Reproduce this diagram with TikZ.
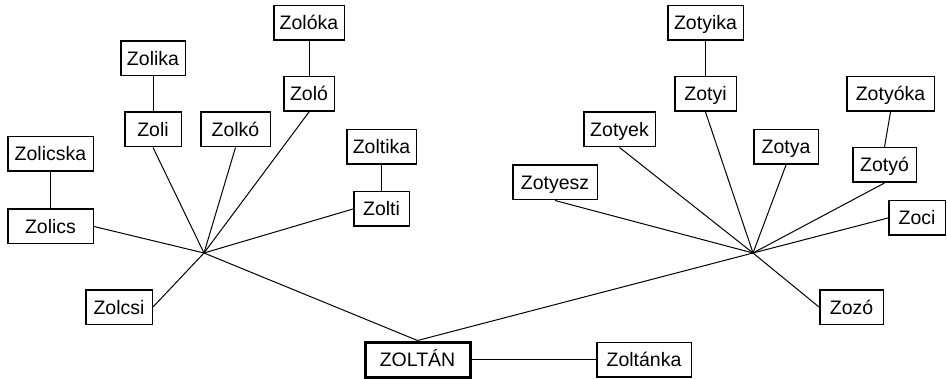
\documentclass[tikz,border=0pt]{standalone}
\usepackage{fontspec}
\setmainfont{Liberation Sans}
\begin{document}
\begin{tikzpicture}[x=1pt,y=-1pt,
  nbox/.style={draw,line width=1.5pt,inner xsep=2pt,inner ysep=0pt,minimum height=34.5pt,
    text height=14pt,text depth=0pt,font=\fontsize{19.5}{23}\selectfont},
  root/.style={nbox,line width=3pt,minimum height=35pt},
  w/.style={minimum width=#1pt-1.5pt},
  conn/.style={line width=1pt}]
\useasboundingbox (0,0) rectangle (947,379);
\coordinate (h1) at (204,253);
\coordinate (h2) at (753,253);
% left group
\node[nbox,w=72] (zoloka) at (309,23) {Zolóka};
\node[nbox,w=66] (zolika) at (153,58.5) {Zolika};
\node[nbox,w=52] (zolo) at (309,94) {Zoló};
\node[nbox,w=58] (zoli) at (153,129.5) {Zoli};
\node[nbox,w=71] (zolko) at (235.5,129.5) {Zolkó};
\node[nbox,w=87] (zolicska) at (50.5,154) {Zolicska};
\node[nbox,w=71] (zoltika) at (381.5,147) {Zoltika};
\node[nbox,w=57] (zolti) at (381.5,209) {Zolti};
\node[nbox,w=87] (zolics) at (50.5,226.5) {Zolics};
\node[nbox,w=68] (zolcsi) at (119,307) {Zolcsi};
% root
\node[root,minimum width=105pt] (zoltan) at (417.5,359.5) {ZOLTÁN};
\node[nbox,w=96] (zoltanka) at (644,359.5) {Zoltánka};
% right group
\node[nbox,w=77] (zotyika) at (705.5,23) {Zotyika};
\node[nbox,w=63] (zotyi) at (705.5,94) {Zotyi};
\node[nbox,w=73] (zotyek) at (619.5,129.5) {Zotyek};
\node[nbox,w=66] (zotya) at (786,147) {Zotya};
\node[nbox,w=89] (zotyoka) at (890.5,94) {Zotyóka};
\node[nbox,w=65] (zotyo) at (884.5,165) {Zotyó};
\node[nbox,w=86] (zotyesz) at (555,182.5) {Zotyesz};
\node[nbox,w=58] (zoci) at (917,218) {Zoci};
\node[nbox,w=65] (zozo) at (851.5,307) {Zozó};
% connectors left
\draw[conn] (zoloka.south) -- (zolo.north);
\draw[conn] (zolika.south) -- (zoli.north);
\draw[conn] (zolicska.south) -- (zolics.north);
\draw[conn] (zoltika.south) -- (zolti.north);
\draw[conn] (h1) -- (zoli.south);
\draw[conn] (h1) -- (zolko.south);
\draw[conn] (h1) -- (zolo.south);
\draw[conn] (h1) -- (zolti.west);
\draw[conn] (h1) -- (zolics.east);
\draw[conn] (h1) -- (zolcsi.east);
\draw[conn] (h1) -- (zoltan.north);
% connectors right
\draw[conn] (zotyika.south) -- (zotyi.north);
\draw[conn] (zotyoka.south) -- (zotyo.north);
\draw[conn] (h2) -- (zotyi.south);
\draw[conn] (h2) -- (zotyek.south);
\draw[conn] (h2) -- (zotya.south);
\draw[conn] (h2) -- (zotyo.south);
\draw[conn] (h2) -- (zotyesz.south);
\draw[conn] (h2) -- (zoci.west);
\draw[conn] (h2) -- (zozo.west);
\draw[conn] (h2) -- (zoltan.north);
\draw[conn] (zoltan.east) -- (zoltanka.west);
\end{tikzpicture}
\end{document}
